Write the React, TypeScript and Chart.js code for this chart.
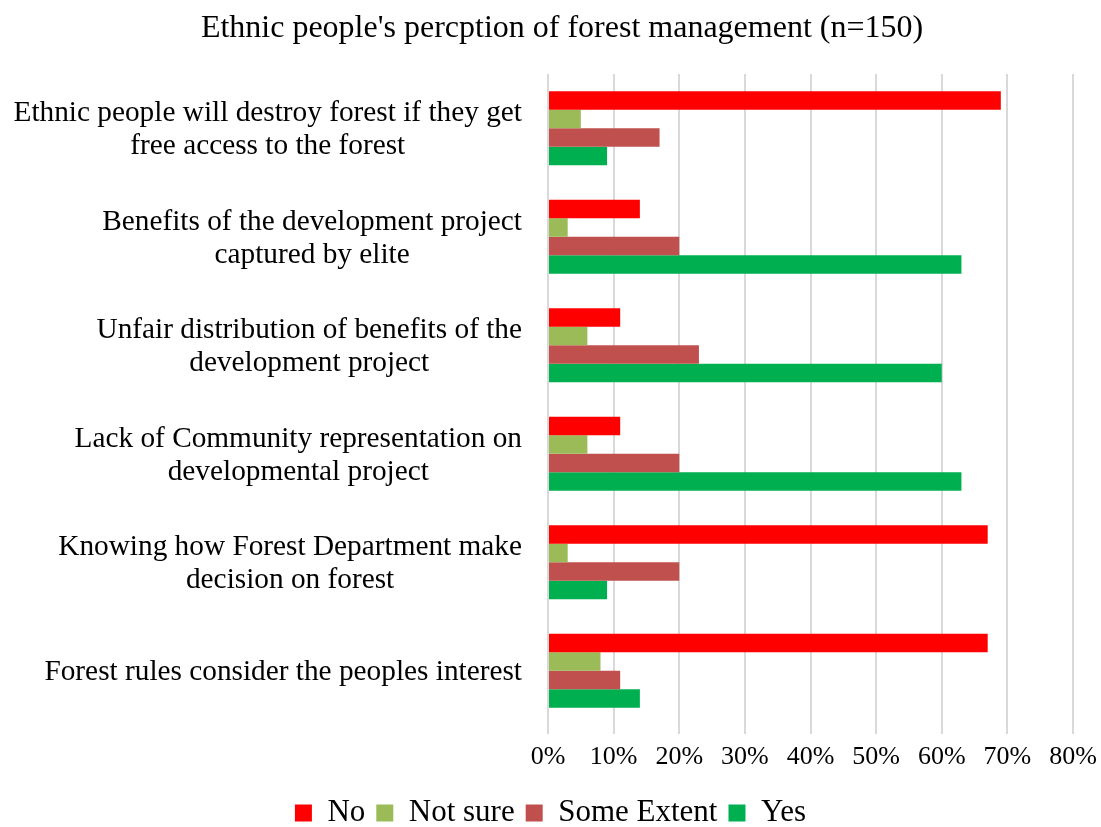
import React, { useEffect, useRef } from "react";
import { Chart, registerables } from "chart.js";

Chart.register(...registerables);

const TITLE = "Ethnic people's percption of forest management (n=150)";

const categories: string[][] = [
  ["Ethnic people will destroy forest if they get", "free access to the forest"],
  ["Benefits of the development project", "captured by elite"],
  ["Unfair distribution of benefits of the", "development project"],
  ["Lack of Community representation on", "developmental project"],
  ["Knowing how Forest Department make", "decision on forest"],
  ["Forest rules consider the peoples interest"],
];

const seriesNames = ["No", "Not sure", "Some Extent", "Yes"];
const seriesColors = ["#FF0000", "#9BBB59", "#C0504D", "#00B050"];

const noValues = [69, 14, 11, 11, 67, 67];
const notSureValues = [5, 3, 6, 6, 3, 8];
const someExtentValues = [17, 20, 23, 20, 20, 11];
const yesValues = [9, 63, 60, 63, 9, 14];

const xTickValues = [0, 10, 20, 30, 40, 50, 60, 70, 80];

const FONT = "'Liberation Serif', 'Times New Roman', serif";
const LABEL_SIZE = 29.3;
const LABEL_LINE = 33;

const titlePlugin = {
  id: "customTitle",
  afterDraw(chart: any) {
    const ctx = chart.ctx;
    ctx.save();
    ctx.font = `32px ${FONT}`;
    ctx.fillStyle = "#000";
    ctx.textAlign = "center";
    ctx.textBaseline = "middle";
    ctx.fillText(TITLE, 562, 29);
    ctx.restore();
  },
};

const yLabelPlugin = {
  id: "yLabels",
  afterDraw(chart: any) {
    const ctx = chart.ctx;
    const yScale = chart.scales.y;
    const rightEdge = chart.chartArea.left - 26;
    ctx.save();
    ctx.font = `${LABEL_SIZE}px ${FONT}`;
    ctx.fillStyle = "#000";
    ctx.textAlign = "center";
    ctx.textBaseline = "middle";
    (chart.data.labels as string[][]).forEach((lines, i) => {
      const cy = yScale.getPixelForValue(i) + 2;
      const w = Math.max(...lines.map((l) => ctx.measureText(l).width));
      const cx = rightEdge - w / 2;
      const n = lines.length;
      lines.forEach((l, j) => {
        ctx.fillText(l, cx, cy + (j - (n - 1) / 2) * LABEL_LINE);
      });
    });
    ctx.restore();
  },
};

export default function App() {
  const ref = useRef<HTMLCanvasElement | null>(null);

  useEffect(() => {
    if (!ref.current) return;
    const values = [noValues, notSureValues, someExtentValues, yesValues];
    const chart = new Chart(ref.current, {
      type: "bar",
      data: {
        labels: categories as any,
        datasets: seriesNames.map((name, i) => ({
          label: name,
          data: values[i],
          backgroundColor: seriesColors[i],
          borderWidth: 0,
          categoryPercentage: 0.683,
          barPercentage: 1,
        })),
      },
      options: {
        indexAxis: "y",
        responsive: false,
        animation: false,
        layout: { padding: { top: 74, left: 28, right: 28, bottom: -11.5 } },
        scales: {
          x: {
            min: 0,
            max: 80,
            afterBuildTicks: (scale: any) => {
              scale.ticks = xTickValues.map((v) => ({ value: v }));
            },
            afterFit: (scale: any) => {
              scale.height = 61.5;
              scale.paddingLeft = 0;
              scale.paddingRight = 0;
            },
            grid: { color: "#d9d9d9", lineWidth: 2, tickLength: 9, drawTicks: true },
            border: { display: false },
            ticks: {
              color: "#000",
              padding: 8,
              font: { family: FONT, size: 26 },
              callback: (v: any) => `${v}%`,
            },
          },
          y: {
            afterFit: (scale: any) => {
              scale.width = 520;
            },
            grid: { display: false },
            border: { display: false },
            ticks: { display: false },
          },
        },
        plugins: {
          title: { display: false },
          tooltip: { enabled: false },
          legend: {
            position: "bottom",
            labels: {
              color: "#000",
              font: { family: FONT, size: 31 },
              boxWidth: 17,
              boxHeight: 17,
              padding: 11,
            },
          },
        },
      },
      plugins: [titlePlugin, yLabelPlugin],
    });
    return () => chart.destroy();
  }, []);

  return (
    <div style={{ position: "absolute", left: 0, top: 0, width: 1101, height: 827, background: "#fff" }}>
      <canvas ref={ref} width={1101} height={827} style={{ width: 1101, height: 827 }} />
    </div>
  );
}
